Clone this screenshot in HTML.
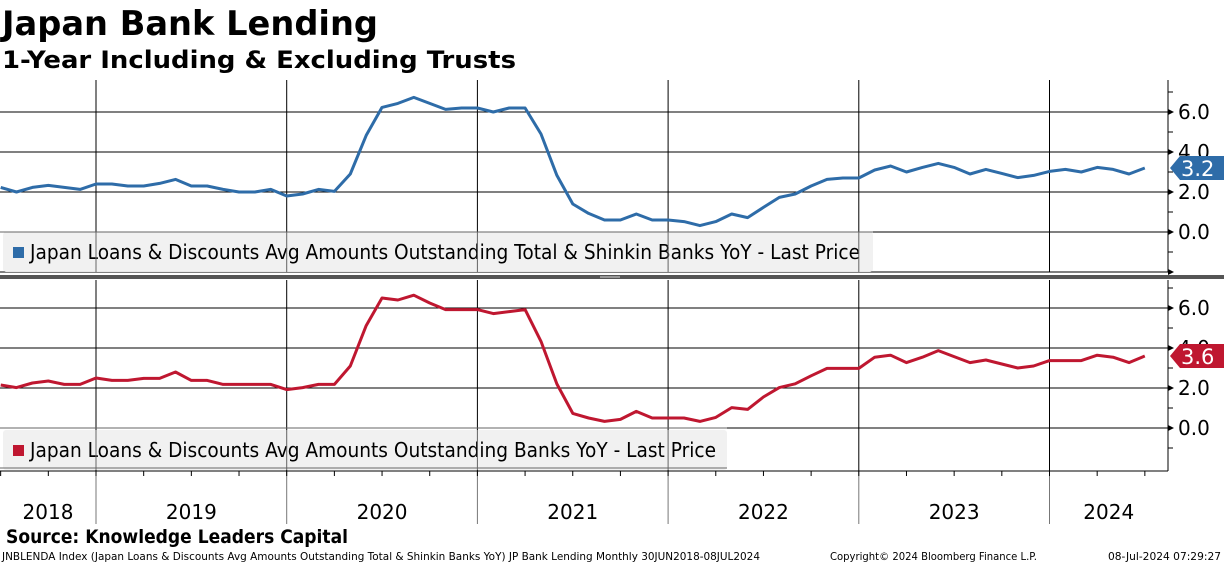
<!DOCTYPE html>
<html><head><meta charset="utf-8"><style>
html,body{margin:0;padding:0;background:#fff;}
svg{display:block;font-family:"DejaVu Sans","Liberation Sans",sans-serif;}
</style></head><body>
<svg id="chart" width="1224" height="565" viewBox="0 0 1224 565" xmlns="http://www.w3.org/2000/svg">
<text x="2" y="35" font-size="34" font-weight="bold" textLength="376" lengthAdjust="spacingAndGlyphs">Japan Bank Lending</text>
<text x="2" y="68" font-size="24" font-weight="bold" textLength="514" lengthAdjust="spacingAndGlyphs">1-Year Including &amp; Excluding Trusts</text>
<g id="grid"></g>
<g id="series"></g>
<g id="legends"></g>
<g id="axes"></g>
<text x="6" y="543" font-size="19" font-weight="bold" textLength="342" lengthAdjust="spacingAndGlyphs">Source: Knowledge Leaders Capital</text>
<text x="2" y="560" font-size="11" textLength="758" lengthAdjust="spacingAndGlyphs">JNBLENDA Index (Japan Loans &amp; Discounts Avg Amounts Outstanding Total &amp; Shinkin Banks YoY) JP Bank Lending  Monthly 30JUN2018-08JUL2024</text>
<text x="830" y="560" font-size="11" textLength="207" lengthAdjust="spacingAndGlyphs">Copyright© 2024 Bloomberg Finance L.P.</text>
<text x="1108" y="560" font-size="11" textLength="113" lengthAdjust="spacingAndGlyphs">08-Jul-2024 07:29:27</text>
</svg>
<script>
const startMonthIndex = -6; // Jul 2018 relative to Jan 2019
const yearLabels = ["2018","2019","2020","2021","2022","2023","2024"];
const yTicks = [6.0, 4.0, 2.0, 0.0];
const totalShinkin = [2.23,2.0,2.23,2.33,2.23,2.13,2.4,2.4,2.3,2.3,2.43,2.63,2.3,2.3,2.13,2.0,2.0,2.13,1.8,1.9,2.13,2.03,2.9,4.83,6.23,6.43,6.73,6.43,6.13,6.2,6.2,6.0,6.2,6.2,4.9,2.83,1.4,0.93,0.6,0.6,0.9,0.6,0.6,0.52,0.32,0.52,0.9,0.72,1.23,1.73,1.9,2.3,2.63,2.7,2.7,3.1,3.3,3.0,3.23,3.43,3.23,2.9,3.13,2.93,2.72,2.83,3.03,3.13,3.0,3.23,3.13,2.9,3.2];
const banksOnly = [2.15,2.02,2.25,2.35,2.18,2.18,2.5,2.38,2.38,2.48,2.48,2.8,2.38,2.38,2.18,2.18,2.18,2.18,1.92,2.02,2.18,2.18,3.1,5.12,6.5,6.4,6.64,6.25,5.92,5.92,5.92,5.72,5.82,5.92,4.33,2.2,0.73,0.5,0.33,0.43,0.83,0.5,0.5,0.5,0.33,0.53,1.02,0.93,1.55,2.02,2.21,2.61,2.98,2.98,2.98,3.54,3.64,3.27,3.54,3.87,3.57,3.27,3.4,3.2,3.0,3.1,3.37,3.37,3.37,3.64,3.54,3.27,3.6];
const legendTop = "Japan Loans & Discounts Avg Amounts Outstanding Total & Shinkin Banks YoY - Last Price";
const legendBottom = "Japan Loans & Discounts Avg Amounts Outstanding Banks YoY - Last Price";

const NS="http://www.w3.org/2000/svg";
const AXIS_X=1168, MONTH_W=190.7/12, JAN2019_X=96;
function xOf(i){return JAN2019_X+(startMonthIndex+i)*MONTH_W;}
function xMonth(m){return JAN2019_X+m*MONTH_W;}
const panels=[{zero:232,top:80,bottom:272},{zero:428,top:280,bottom:471}];
function yOf(p,v){return panels[p].zero-v*20;}
function mk(tag,attrs,parent){const e=document.createElementNS(NS,tag);for(const k in attrs)e.setAttribute(k,attrs[k]);parent.appendChild(e);return e;}
const grid=document.getElementById('grid'),series=document.getElementById('series'),legends=document.getElementById('legends'),axes=document.getElementById('axes');

// vertical year lines
for(let y=0;y<6;y++){
  const x=xMonth(y*12);
  const v1=mk('line',{x1:x,y1:80,x2:x,y2:272,stroke:'#000','stroke-width':1},grid);
  
  
  const v2=mk('line',{x1:x,y1:280,x2:x,y2:471,stroke:'#000','stroke-width':1},grid);
  
  
  const v3=mk('line',{x1:x,y1:471,x2:x,y2:524,stroke:'#777','stroke-width':1},grid);
  
  
}
// horizontal gridlines + right axis labels
panels.forEach((p,pi)=>{
  yTicks.forEach(t=>{
    const y=yOf(pi,t);
    const h=mk('line',{x1:0,y1:y,x2:AXIS_X,y2:y,stroke:'#000','stroke-width':1},grid);
    
    
    const a=mk('path',{d:`M${AXIS_X},${y-3}L${AXIS_X+6},${y}L${AXIS_X},${y+3}Z`,fill:'#000'},axes);
    
    
    const tx=mk('text',{x:AXIS_X+10,y:y+7,'font-size':20},axes);
    
    
    tx.textContent=t.toFixed(1);
  });
  // minor ticks
  for(let v=-2;v<=7;v++){
    if(v%2===0)continue;
    const y=yOf(pi,v);
    if(y<p.top||y>p.bottom)continue;
    const m=mk('line',{x1:AXIS_X,y1:y,x2:AXIS_X+5,y2:y,stroke:'#000'},axes);
    
    
  }
  const ax=mk('line',{x1:AXIS_X,y1:p.top,x2:AXIS_X,y2:p.bottom,stroke:'#000'},axes);
  
  
});
// -2 line top
const b1=mk('line',{x1:0,y1:272,x2:AXIS_X,y2:272,stroke:'#000'},grid);


const b2=mk('path',{d:`M${AXIS_X},269L${AXIS_X+6},272L${AXIS_X},275Z`,fill:'#000'},axes);



// legends (drawn before series so line overlaps? legend box is on top of gridlines)
function legend(y,w,color,label,tlen){
  const g=mk('g',{},legends);
  
  
  const r=mk('rect',{x:3,y:y,width:w,height:40,fill:'#f0f0f0',rx:3,opacity:0.93},g);
  
  
  const s=mk('rect',{x:13,y:y+15,width:11,height:11,fill:color},g);
  
  
  const t=mk('text',{x:30,y:y+27,'font-size':20,textLength:tlen,lengthAdjust:'spacingAndGlyphs',fill:'#000'},g);
  
  
  t.textContent=label;
}
legend(232,870,'#2e6ca8',legendTop,830);
legend(430,724,'#bf1730',legendBottom,686);
// redraw gridlines over legend lightly
[[232,873],[428,727],[468,727]].forEach(([y,w])=>{
  const l=mk('line',{x1:0,y1:y,x2:w,y2:y,stroke:'#666'},legends);
  
  
});
for(let yv=0;yv<5;yv++){
  const x=xMonth(yv*12);
  [[232,272,873],[430,470,727]].forEach(([a,b,w])=>{
    if(x>w)return;
    const l=mk('line',{x1:x,y1:a,x2:x,y2:b,stroke:'#666'},legends);
    
    
  });
}

// series
function drawSeries(arr,pi,color,name){
  const pts=arr.map((v,i)=>xOf(i).toFixed(1)+','+yOf(pi,v).toFixed(1)).join(' ');
  const pl=mk('polyline',{points:pts,fill:'none',stroke:color,'stroke-width':3,'stroke-linejoin':'round'},series);
  
  
  const last=arr[arr.length-1], y=yOf(pi,last);
  const tag=mk('path',{d:`M${AXIS_X+2},${y}L${AXIS_X+12},${y-12}L1224,${y-12}L1224,${y+12}L${AXIS_X+12},${y+12}Z`,fill:color},axes);
  
  
  const tt=mk('text',{x:AXIS_X+13,y:y+8,'font-size':21,fill:'#fff'},axes);
  
  
  tt.textContent=last.toFixed(1);
}
drawSeries(totalShinkin,0,'#2e6ca8','total-shinkin-line');
drawSeries(banksOnly,1,'#bf1730','banks-line');

// separator
const sep=mk('rect',{x:0,y:275,width:1224,height:4,fill:'#555'},axes);


const hd=mk('rect',{x:600,y:276,width:20,height:2,fill:'#999'},axes);



// x axis
const xa=mk('line',{x1:0,y1:471,x2:AXIS_X,y2:471,stroke:'#000'},axes);


for(let m=-6;m<=66;m+=3){
  const x=xMonth(m);
  const t=mk('line',{x1:x,y1:471,x2:x,y2:476,stroke:'#000'},axes);
  
  
}
yearLabels.forEach((lab,i)=>{
  const s=i===0?0:JAN2019_X+(i-1)*190.7;
  const e=i===0?JAN2019_X:Math.min(JAN2019_X+i*190.7,1168);
  const t=mk('text',{x:(s+e)/2,y:519,'font-size':20,'text-anchor':'middle'},axes);
  
  
  t.textContent=lab;
});
</script>
</body></html>
